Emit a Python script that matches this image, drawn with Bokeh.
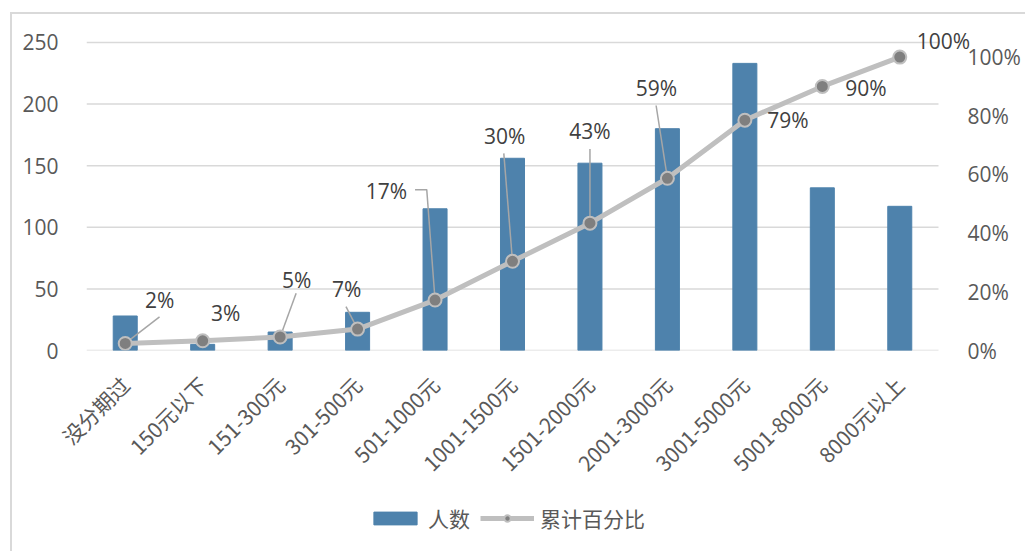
import math
from bokeh.plotting import figure
from bokeh.layouts import column
from bokeh.models import (Range1d, LinearAxis, FixedTicker, NumeralTickFormatter,
                          ColumnDataSource, Legend, LegendItem, LabelSet)
from bokeh.core.properties import value
from bokeh.embed import file_html
from bokeh.resources import INLINE

# ---------------- data ----------------
categories = ["没分期过", "150元以下", "151-300元", "301-500元", "501-1000元",
              "1001-1500元", "1501-2000元", "2001-3000元", "3001-5000元",
              "5001-8000元", "8000元以上"]
people = [28, 5, 15, 31, 115, 156, 152, 180, 233, 132, 117]
cum_pct = [0.024, 0.033, 0.046, 0.073, 0.172, 0.304, 0.434, 0.587, 0.785, 0.90, 1.0]
cum_labels = ["2%", "3%", "5%", "7%", "17%", "30%", "43%", "59%", "79%", "90%", "100%"]
left_ticks = [0, 50, 100, 150, 200, 250]
right_ticks = [0, 0.2, 0.4, 0.6, 0.8, 1.0]
series_names = ["人数", "累计百分比"]

# ---------------- styling (pixel offsets of data labels) ----------------
label_dx = [34.5, 23, 16.5, -11, -48.5, -7.7, 0, -11, 43, 43.5, 43.7]
label_dy = [-43, -28, -57, -40, -109.5, -125.5, -92, -90, 0, 2, -15.7]
# leader lines: index -> list of pixel offsets from the point (screen dx, dy)
leaders = {
    0: [(0, 0), (34.3, -26.6)],
    2: [(0, 0), (16, -44)],
    3: [(0, 0), (-11.6, -22.6)],
    4: [(0, 0), (-8.3, -110.7), (-20, -110.7)],
    5: [(0, 0), (-8.7, -108.3)],
    6: [(0, 0), (0, -74.4)],
    7: [(0, 0), (-11.3, -73)],
}

W = 1025
H_MAIN, H_LEG = 490, 61
LEFT_MAX, PCT_TOP = 250, 1.05       # values at the top gridline
PLOT_LEFT, PLOT_RIGHT = 86, 938     # pixel extent of the category band
FRAME_RIGHT = 975                   # frame reaches further so labels are not cut
ML, MR, MB = PLOT_LEFT, W - FRAME_RIGHT, 139
GRID_TOP = 42                       # pixel row of the top gridline
MT = 20                             # frame extends above the top gridline
n = len(categories)
xs = list(range(n))
px_per_x = (PLOT_RIGHT - PLOT_LEFT) / n
x_end = n - 0.5 + (FRAME_RIGHT - PLOT_RIGHT) / px_per_x
frame_h = H_MAIN - MT - MB
grid_h = H_MAIN - GRID_TOP - MB
px_per_pct = grid_h / PCT_TOP
y_top = LEFT_MAX * frame_h / grid_h
pct_top = PCT_TOP * frame_h / grid_h

NUM_FONT = "Open Sans"
CJK_FONT = "Noto Sans CJK SC"
TICK_COLOR = "#595959"
BAR_COLOR = "#4e82ac"
LINE_COLOR = "#bfbfbf"
MARK_COLOR = "#7f7f7f"
GRID_COLOR = "#d9d9d9"

p = figure(width=W, height=H_MAIN, output_backend="svg", toolbar_location=None,
           x_range=Range1d(-0.5, x_end), y_range=Range1d(0, y_top),
           min_border_left=ML, min_border_right=MR, min_border_top=MT,
           min_border_bottom=MB)
p.extra_y_ranges = {"pct": Range1d(0, pct_top)}
p.outline_line_color = None
p.background_fill_color = None
p.border_fill_color = None

# axes
p.xaxis.ticker = FixedTicker(ticks=xs)
p.xaxis.major_label_overrides = {i: c for i, c in enumerate(categories)}
p.xaxis.major_label_orientation = math.pi / 4
p.xaxis.major_label_text_font = CJK_FONT
p.xaxis.major_label_text_font_size = "21px"
p.xaxis.major_label_text_color = TICK_COLOR
p.xaxis.major_label_standoff = 24
p.xaxis.axis_line_color = None
p.xaxis.major_tick_line_color = None
p.xaxis.minor_tick_line_color = None

p.yaxis.ticker = FixedTicker(ticks=left_ticks)
p.yaxis.major_label_text_font = NUM_FONT
p.yaxis.major_label_text_font_size = "21px"
p.yaxis.major_label_text_color = TICK_COLOR
p.yaxis.major_label_standoff = 22
p.yaxis.axis_line_color = None
p.yaxis.major_tick_line_color = None
p.yaxis.minor_tick_line_color = None

raxis = LinearAxis(y_range_name="pct", ticker=FixedTicker(ticks=right_ticks),
                   formatter=NumeralTickFormatter(format="0%"))
raxis.major_label_text_font = NUM_FONT
raxis.major_label_text_font_size = "21px"
raxis.major_label_text_color = TICK_COLOR
raxis.major_label_standoff = 961 - FRAME_RIGHT
raxis.axis_line_color = None
raxis.major_tick_line_color = None
raxis.minor_tick_line_color = None
p.add_layout(raxis, "right")

p.grid.grid_line_color = None
# horizontal gridlines limited to the category band
p.segment(x0=[-0.5] * len(left_ticks), x1=[n - 0.5] * len(left_ticks),
          y0=left_ticks, y1=left_ticks, line_color=GRID_COLOR, line_width=1.5)

src = ColumnDataSource(dict(x=xs, people=people, pct=cum_pct, lab=cum_labels,
                            dx=label_dx, dy=[-d for d in label_dy]))
p.vbar(x="x", top="people", width=0.31, source=src, color=BAR_COLOR)

# leader lines (data point + pixel offsets converted through the scales)
lx, ly = [], []
for i, pts in leaders.items():
    lx.append([xs[i] + dx / px_per_x for dx, dy in pts])
    ly.append([cum_pct[i] - dy / px_per_pct for dx, dy in pts])
p.multi_line(lx, ly, y_range_name="pct", line_color="#a6a6a6", line_width=1.5)

p.line("x", "pct", source=src, y_range_name="pct", line_color=LINE_COLOR,
       line_width=5)
p.scatter("x", "pct", source=src, y_range_name="pct", size=13,
          fill_color=MARK_COLOR, line_color=LINE_COLOR, line_width=2)

labels = LabelSet(x="x", y="pct", text="lab", source=src, y_range_name="pct",
                  x_offset="dx", y_offset="dy", text_align="center",
                  text_baseline="middle", text_font=value(NUM_FONT),
                  text_font_size="21px", text_color="#404040")
p.add_layout(labels)

# ---------------- legend strip ----------------
# same series drawn in a strip whose ranges keep them out of view; only the
# legend of this strip is visible
lf = figure(width=W, height=H_LEG, output_backend="svg", toolbar_location=None,
            x_range=Range1d(1000, 1001), y_range=Range1d(1000, 1001),
            x_axis_type=None, y_axis_type=None, min_border=0)
lf.outline_line_color = None
lf.background_fill_color = None
lf.border_fill_color = None
lf.grid.visible = False
lb = lf.vbar(x="x", top="people", width=0.31, source=src, color=BAR_COLOR)
ll = lf.line("x", "pct", source=src, line_color=LINE_COLOR, line_width=5)
lm = lf.scatter("x", "pct", source=src, size=13, fill_color=MARK_COLOR,
                line_color=LINE_COLOR, line_width=2)
legend = Legend(items=[LegendItem(label=series_names[0], renderers=[lb]),
                       LegendItem(label=series_names[1], renderers=[ll, lm])],
                orientation="horizontal", location=(282, 18))
legend.border_line_color = None
legend.background_fill_alpha = 0
legend.padding = 0
legend.margin = 0
legend.glyph_width = 54
legend.glyph_height = 16
legend.label_standoff = 6
legend.spacing = 10
legend.label_text_font = CJK_FONT
legend.label_text_font_size = "21px"
legend.label_text_color = TICK_COLOR
lf.add_layout(legend, "center")

border = ("linear-gradient(#d9d9d9,#d9d9d9) 10px 12px / 2px 100% no-repeat, "
          "linear-gradient(#d9d9d9,#d9d9d9) 10px 12px / 100% 2px no-repeat, white")
layout = column(p, lf, spacing=0, styles={"background": border})

open("out.html", "w").write(file_html(layout, INLINE))
